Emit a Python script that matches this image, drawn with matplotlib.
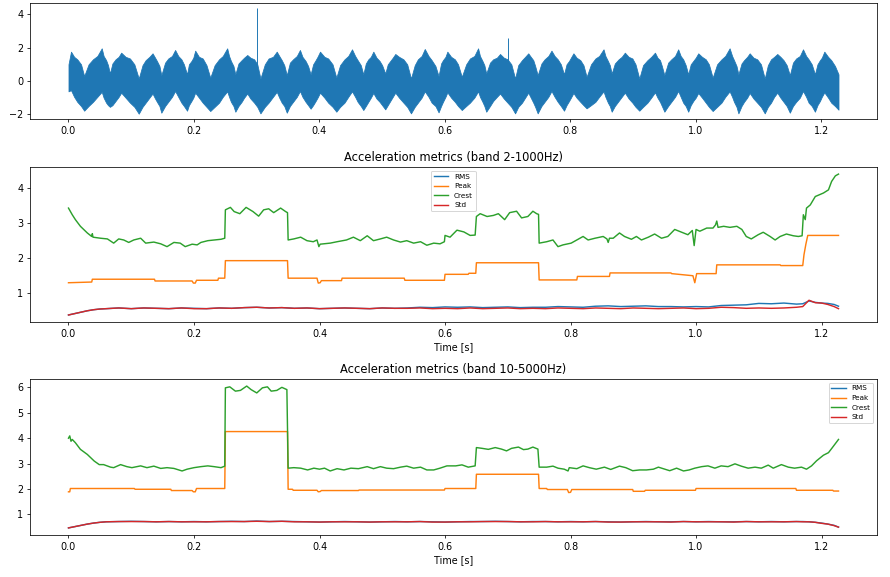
import matplotlib
matplotlib.use("Agg")
import matplotlib.pyplot as plt

# ---------------- data ----------------
# Top panel: upper / lower envelope of the raw vibration signal
sig_t = [0.000,
         0.004, 0.009, 0.014, 0.020, 0.025, 0.032, 0.039, 0.046,
         0.053, 0.056, 0.060, 0.063, 0.066, 0.070, 0.075, 0.080,
         0.084, 0.091, 0.098, 0.105, 0.112, 0.118, 0.123, 0.129,
         0.134, 0.138, 0.141, 0.145, 0.148, 0.154, 0.159, 0.165,
         0.170, 0.175, 0.180, 0.184, 0.189, 0.192, 0.196, 0.199,
         0.202, 0.208, 0.214, 0.220, 0.226, 0.233, 0.240, 0.246,
         0.253, 0.256, 0.259, 0.263, 0.266, 0.271, 0.276, 0.280,
         0.285, 0.290, 0.296, 0.301, 0.306, 0.313, 0.319, 0.326,
         0.332, 0.336, 0.340, 0.344, 0.348, 0.353, 0.358, 0.364,
         0.369, 0.373, 0.378, 0.382, 0.386, 0.390, 0.394, 0.397,
         0.401, 0.408, 0.414, 0.421, 0.427, 0.433, 0.440, 0.446,
         0.452, 0.457, 0.461, 0.466, 0.470, 0.474, 0.478, 0.482,
         0.486, 0.491, 0.496, 0.500, 0.505, 0.509, 0.513, 0.517,
         0.521, 0.527, 0.534, 0.540, 0.546, 0.552, 0.557, 0.563,
         0.568, 0.574, 0.579, 0.585, 0.590, 0.594, 0.597, 0.601,
         0.604, 0.610, 0.616, 0.621, 0.627, 0.634, 0.640, 0.647,
         0.653, 0.656, 0.660, 0.663, 0.666, 0.672, 0.677, 0.683,
         0.688, 0.694, 0.700, 0.706, 0.712, 0.717, 0.723, 0.728,
         0.733, 0.737, 0.741, 0.744, 0.748, 0.754, 0.759, 0.765,
         0.770, 0.775, 0.780, 0.785, 0.790, 0.794, 0.798, 0.801,
         0.805, 0.810, 0.816, 0.821, 0.826, 0.833, 0.840, 0.846,
         0.853, 0.856, 0.860, 0.863, 0.866, 0.871, 0.877, 0.882,
         0.887, 0.893, 0.899, 0.904, 0.910, 0.916, 0.923, 0.929,
         0.935, 0.939, 0.943, 0.946, 0.950, 0.956, 0.961, 0.967,
         0.972, 0.976, 0.980, 0.984, 0.988, 0.992, 0.996, 1.000,
         1.004, 1.010, 1.016, 1.021, 1.027, 1.034, 1.041, 1.047,
         1.054, 1.058, 1.061, 1.065, 1.068, 1.073, 1.077, 1.082,
         1.086, 1.092, 1.098, 1.104, 1.110, 1.115, 1.120, 1.125,
         1.130, 1.135, 1.140, 1.145, 1.150, 1.155, 1.160, 1.166,
         1.171, 1.176, 1.180, 1.185, 1.190, 1.194, 1.198, 1.201,
         1.205, 1.211, 1.216, 1.222,
         1.2276]
sig_hi = [1.00,
          1.76, 1.45, 1.30, 1.00, 0.30, 1.00, 1.30, 1.50,
          1.96, 1.50, 1.25, 0.95, 0.45, 1.05, 1.30, 1.45,
          1.70, 1.45, 1.35, 1.00, 0.15, 0.95, 1.25, 1.45,
          1.66, 1.40, 1.20, 0.90, 0.35, 1.10, 1.35, 1.50,
          1.86, 1.50, 1.30, 1.00, 0.40, 1.00, 1.20, 1.40,
          1.82, 1.45, 1.35, 0.95, 0.20, 0.95, 1.30, 1.50,
          1.96, 1.50, 1.20, 0.90, 0.40, 1.05, 1.25, 1.40,
          1.56, 1.40, 1.30, 1.00, 0.15, 1.00, 1.35, 1.45,
          1.76, 1.50, 1.25, 0.95, 0.35, 1.10, 1.30, 1.50,
          1.86, 1.45, 1.20, 0.90, 0.40, 1.00, 1.25, 1.45,
          1.76, 1.45, 1.35, 1.00, 0.20, 0.95, 1.30, 1.50,
          1.90, 1.50, 1.25, 0.95, 0.40, 1.05, 1.30, 1.45,
          1.76, 1.40, 1.20, 0.95, 0.45, 1.00, 1.20, 1.40,
          1.62, 1.45, 1.30, 1.00, 0.15, 0.95, 1.30, 1.50,
          1.92, 1.50, 1.25, 0.90, 0.30, 1.05, 1.25, 1.45,
          1.76, 1.45, 1.30, 1.00, 0.25, 1.00, 1.35, 1.50,
          1.96, 1.50, 1.20, 0.95, 0.45, 1.10, 1.30, 1.40,
          1.62, 1.40, 1.30, 1.00, 0.15, 0.95, 1.25, 1.45,
          1.66, 1.45, 1.25, 0.90, 0.35, 1.05, 1.30, 1.50,
          1.82, 1.50, 1.30, 1.00, 0.40, 1.00, 1.20, 1.40,
          1.66, 1.40, 1.25, 0.95, 0.25, 1.00, 1.35, 1.50,
          1.90, 1.50, 1.20, 0.95, 0.45, 1.05, 1.30, 1.45,
          1.70, 1.45, 1.35, 1.00, 0.15, 0.95, 1.25, 1.45,
          1.70, 1.40, 1.25, 0.90, 0.35, 1.10, 1.30, 1.50,
          1.90, 1.50, 1.30, 0.95, 0.40, 1.00, 1.20, 1.40,
          1.66, 1.45, 1.30, 1.00, 0.20, 1.00, 1.30, 1.50,
          1.96, 1.50, 1.25, 0.90, 0.40, 1.05, 1.25, 1.45,
          1.66, 1.40, 1.30, 1.00, 0.15, 0.95, 1.30, 1.45,
          1.62, 1.45, 1.25, 0.95, 0.35, 1.10, 1.35, 1.50,
          1.90, 1.50, 1.30, 1.00, 0.40, 1.00, 1.25, 1.40,
          1.76, 1.45, 1.25, 0.90,
          0.40]
sig_lo = [-0.62,
          -0.55, -0.95, -1.25, -1.50, -1.78, -1.50, -1.25, -0.95,
          -0.65, -1.00, -1.30, -1.45, -1.55, -1.45, -1.20, -0.95,
          -0.70, -1.00, -1.30, -1.55, -1.96, -1.55, -1.30, -1.00,
          -0.75, -1.05, -1.25, -1.50, -1.90, -1.50, -1.25, -0.95,
          -0.60, -0.95, -1.30, -1.50, -1.78, -1.45, -1.20, -1.00,
          -0.70, -1.00, -1.30, -1.55, -1.80, -1.55, -1.30, -0.95,
          -0.62, -0.95, -1.25, -1.50, -1.84, -1.50, -1.25, -1.00,
          -0.75, -1.05, -1.30, -1.55, -1.94, -1.55, -1.30, -0.95,
          -0.65, -1.00, -1.30, -1.50, -1.90, -1.50, -1.25, -0.95,
          -0.60, -0.95, -1.25, -1.45, -1.66, -1.45, -1.20, -1.00,
          -0.70, -1.00, -1.30, -1.55, -1.84, -1.55, -1.30, -0.95,
          -0.62, -0.95, -1.25, -1.50, -1.74, -1.50, -1.25, -1.00,
          -0.72, -1.05, -1.25, -1.45, -1.70, -1.45, -1.20, -0.95,
          -0.70, -1.00, -1.30, -1.55, -1.94, -1.55, -1.30, -1.00,
          -0.62, -0.95, -1.30, -1.50, -1.88, -1.50, -1.25, -0.95,
          -0.68, -1.00, -1.25, -1.50, -1.74, -1.50, -1.30, -1.00,
          -0.62, -0.95, -1.25, -1.50, -1.84, -1.50, -1.20, -0.95,
          -0.75, -1.05, -1.30, -1.55, -1.94, -1.55, -1.30, -1.00,
          -0.70, -1.00, -1.30, -1.55, -1.94, -1.50, -1.25, -0.95,
          -0.60, -0.95, -1.25, -1.50, -1.78, -1.45, -1.20, -1.00,
          -0.72, -1.00, -1.25, -1.45, -1.64, -1.45, -1.25, -0.95,
          -0.62, -0.95, -1.30, -1.50, -1.84, -1.50, -1.20, -0.95,
          -0.70, -1.05, -1.30, -1.55, -1.78, -1.55, -1.30, -1.00,
          -0.68, -1.00, -1.25, -1.50, -1.84, -1.50, -1.25, -0.95,
          -0.60, -0.95, -1.30, -1.50, -1.84, -1.45, -1.20, -1.00,
          -0.72, -1.00, -1.30, -1.55, -1.80, -1.55, -1.30, -0.95,
          -0.62, -0.95, -1.25, -1.55, -1.94, -1.50, -1.25, -1.00,
          -0.72, -1.05, -1.30, -1.55, -1.94, -1.55, -1.30, -0.95,
          -0.70, -1.00, -1.25, -1.50, -1.90, -1.50, -1.25, -1.00,
          -0.60, -0.95, -1.30, -1.50, -1.84, -1.45, -1.20, -0.95,
          -0.68, -1.00, -1.30, -1.50,
          -1.72]
spike_t = [0.300, 0.700]
spike_v = [4.36, 2.60]

# Panel 2: band 2-1000Hz
c2_t = [0.000, 0.006, 0.011, 0.019, 0.030, 0.037, 0.038, 0.039, 0.051, 0.062,
        0.072, 0.080, 0.088, 0.096, 0.104, 0.115, 0.123, 0.136, 0.147, 0.157,
        0.168, 0.178, 0.186, 0.197, 0.205, 0.211, 0.222, 0.232, 0.243, 0.249,
        0.250, 0.258, 0.264, 0.273, 0.283, 0.294, 0.303, 0.311, 0.319, 0.327,
        0.338, 0.346, 0.349, 0.350, 0.359, 0.370, 0.380, 0.390, 0.396, 0.399,
        0.401, 0.417, 0.428, 0.443, 0.454, 0.465, 0.476, 0.486, 0.497, 0.507,
        0.518, 0.529, 0.539, 0.550, 0.561, 0.571, 0.582, 0.592, 0.599, 0.600,
        0.608, 0.619, 0.630, 0.640, 0.648, 0.650, 0.656, 0.667, 0.677, 0.685,
        0.695, 0.703, 0.714, 0.722, 0.732, 0.740, 0.746, 0.749, 0.750, 0.762,
        0.772, 0.780, 0.788, 0.801, 0.810, 0.820, 0.828, 0.839, 0.852, 0.858,
        0.860, 0.862, 0.868, 0.878, 0.886, 0.897, 0.905, 0.913, 0.924, 0.934,
        0.945, 0.955, 0.966, 0.977, 0.987, 0.994, 0.997, 1.000, 1.006, 1.017,
        1.027, 1.031, 1.033, 1.035, 1.044, 1.054, 1.065, 1.073, 1.080, 1.088,
        1.099, 1.107, 1.118, 1.126, 1.134, 1.144, 1.155, 1.163, 1.169, 1.171,
        1.174, 1.176, 1.182, 1.190, 1.203, 1.211, 1.216, 1.222, 1.227]
c2_v = [3.43, 3.24, 3.10, 2.91, 2.72, 2.62, 2.70, 2.60, 2.57, 2.55,
        2.43, 2.55, 2.52, 2.45, 2.52, 2.57, 2.43, 2.46, 2.41, 2.33,
        2.45, 2.43, 2.33, 2.40, 2.38, 2.45, 2.50, 2.52, 2.54, 2.57,
        3.38, 3.45, 3.33, 3.27, 3.45, 3.33, 3.20, 3.38, 3.41, 3.30,
        3.43, 3.33, 3.30, 2.52, 2.55, 2.60, 2.50, 2.47, 2.52, 2.33,
        2.40, 2.43, 2.47, 2.52, 2.60, 2.50, 2.64, 2.50, 2.55, 2.60,
        2.52, 2.46, 2.50, 2.43, 2.47, 2.37, 2.43, 2.41, 2.47, 2.65,
        2.60, 2.80, 2.75, 2.65, 2.66, 3.19, 3.27, 3.19, 3.22, 3.27,
        3.10, 3.30, 3.34, 3.15, 3.19, 3.34, 3.27, 3.25, 2.43, 2.47,
        2.52, 2.33, 2.38, 2.43, 2.52, 2.62, 2.52, 2.57, 2.62, 2.55,
        2.45, 2.57, 2.57, 2.72, 2.62, 2.54, 2.62, 2.52, 2.60, 2.69,
        2.57, 2.62, 2.82, 2.74, 2.67, 2.79, 2.36, 2.82, 2.77, 2.86,
        2.86, 2.95, 3.06, 2.88, 2.91, 2.88, 2.91, 2.82, 2.62, 2.55,
        2.67, 2.74, 2.62, 2.52, 2.62, 2.69, 2.64, 2.62, 2.64, 3.24,
        3.10, 3.43, 3.52, 3.76, 3.86, 3.95, 4.19, 4.35, 4.40]
p2_t = [0.000, 0.037, 0.038, 0.137, 0.138, 0.197, 0.199, 0.202, 0.204, 0.238,
        0.239, 0.249, 0.250, 0.349, 0.350, 0.396, 0.398, 0.401, 0.403, 0.435,
        0.436, 0.535, 0.536, 0.599, 0.600, 0.637, 0.638, 0.649, 0.650, 0.749,
        0.750, 0.810, 0.811, 0.862, 0.863, 0.960, 0.961, 0.995, 0.998, 1.001,
        1.032, 1.033, 1.134, 1.135, 1.170, 1.172, 1.175, 1.178, 1.227]
p2_v = [1.30, 1.32, 1.40, 1.40, 1.35, 1.35, 1.29, 1.29, 1.37, 1.37,
        1.43, 1.43, 1.93, 1.93, 1.43, 1.43, 1.29, 1.30, 1.36, 1.36,
        1.43, 1.43, 1.37, 1.37, 1.54, 1.54, 1.57, 1.57, 1.87, 1.87,
        1.38, 1.38, 1.48, 1.48, 1.58, 1.58, 1.56, 1.50, 1.30, 1.56,
        1.56, 1.81, 1.81, 1.79, 1.79, 2.10, 2.40, 2.65, 2.65]

rs_t = [0.00, 0.01, 0.02, 0.03, 0.04, 0.05, 0.06, 0.08, 0.10, 0.12,
        0.14, 0.16, 0.18, 0.20, 0.22, 0.24, 0.26, 0.28, 0.30, 0.32,
        0.34, 0.36, 0.38, 0.40, 0.42, 0.44, 0.46, 0.48, 0.50, 0.52,
        0.54, 0.56, 0.58, 0.60, 0.62, 0.64, 0.66, 0.68, 0.70, 0.72,
        0.74, 0.76, 0.78, 0.80, 0.82, 0.84, 0.86, 0.88, 0.90, 0.92,
        0.94, 0.96, 0.98, 1.00, 1.02, 1.04, 1.06, 1.08, 1.10, 1.12,
        1.14, 1.16, 1.17, 1.18, 1.19, 1.20, 1.21, 1.22, 1.227]
r2_v = [0.38, 0.42, 0.46, 0.50, 0.53, 0.55, 0.56, 0.58, 0.56, 0.58,
        0.57, 0.56, 0.58, 0.57, 0.56, 0.58, 0.57, 0.59, 0.60, 0.58,
        0.59, 0.57, 0.58, 0.56, 0.57, 0.58, 0.57, 0.56, 0.58, 0.57,
        0.58, 0.60, 0.59, 0.61, 0.60, 0.61, 0.59, 0.60, 0.61, 0.59,
        0.60, 0.60, 0.62, 0.61, 0.60, 0.63, 0.64, 0.62, 0.63, 0.64,
        0.62, 0.62, 0.61, 0.62, 0.61, 0.65, 0.66, 0.67, 0.71, 0.70,
        0.72, 0.69, 0.70, 0.78, 0.74, 0.72, 0.71, 0.68, 0.63]
s2_v = [0.38, 0.42, 0.46, 0.50, 0.53, 0.55, 0.56, 0.58, 0.56, 0.58,
        0.57, 0.56, 0.58, 0.56, 0.56, 0.58, 0.57, 0.59, 0.60, 0.58,
        0.59, 0.57, 0.58, 0.56, 0.57, 0.58, 0.57, 0.56, 0.58, 0.57,
        0.57, 0.58, 0.56, 0.57, 0.56, 0.58, 0.56, 0.57, 0.58, 0.56,
        0.57, 0.56, 0.58, 0.57, 0.56, 0.58, 0.57, 0.56, 0.58, 0.57,
        0.56, 0.57, 0.58, 0.56, 0.57, 0.60, 0.59, 0.57, 0.58, 0.57,
        0.58, 0.60, 0.62, 0.80, 0.73, 0.72, 0.68, 0.62, 0.56]

# Panel 3: band 10-5000Hz
c3_t = [0.000, 0.002, 0.004, 0.006, 0.011, 0.019, 0.030, 0.041, 0.049, 0.056,
        0.067, 0.072, 0.083, 0.093, 0.101, 0.115, 0.125, 0.136, 0.147, 0.157,
        0.168, 0.181, 0.189, 0.200, 0.211, 0.222, 0.232, 0.243, 0.249, 0.250,
        0.257, 0.266, 0.274, 0.284, 0.291, 0.300, 0.309, 0.317, 0.323, 0.332,
        0.340, 0.348, 0.350, 0.359, 0.370, 0.381, 0.391, 0.400, 0.408, 0.417,
        0.428, 0.439, 0.450, 0.462, 0.476, 0.486, 0.497, 0.507, 0.518, 0.529,
        0.539, 0.550, 0.561, 0.571, 0.582, 0.592, 0.603, 0.617, 0.627, 0.637,
        0.648, 0.650, 0.659, 0.669, 0.680, 0.690, 0.698, 0.706, 0.717, 0.725,
        0.732, 0.740, 0.748, 0.750, 0.762, 0.772, 0.780, 0.790, 0.796, 0.798,
        0.810, 0.820, 0.830, 0.841, 0.854, 0.864, 0.878, 0.888, 0.899, 0.910,
        0.921, 0.932, 0.940, 0.950, 0.958, 0.969, 0.980, 0.989, 0.998, 1.009,
        1.019, 1.030, 1.040, 1.051, 1.062, 1.072, 1.083, 1.094, 1.104, 1.115,
        1.123, 1.136, 1.147, 1.157, 1.168, 1.176, 1.184, 1.192, 1.203, 1.211,
        1.216, 1.222, 1.227]
c3_v = [4.00, 4.09, 3.88, 3.95, 3.82, 3.56, 3.36, 3.10, 2.96, 2.96,
        2.86, 2.84, 2.96, 2.88, 2.84, 2.91, 2.84, 2.90, 2.81, 2.84,
        2.81, 2.71, 2.78, 2.84, 2.88, 2.91, 2.88, 2.84, 2.90, 5.98,
        6.02, 5.85, 5.88, 6.05, 5.91, 5.78, 5.98, 6.02, 5.85, 5.88,
        6.00, 5.91, 2.82, 2.84, 2.82, 2.75, 2.82, 2.78, 2.82, 2.71,
        2.80, 2.75, 2.82, 2.80, 2.88, 2.80, 2.88, 2.82, 2.80, 2.86,
        2.90, 2.82, 2.86, 2.75, 2.75, 2.82, 2.91, 2.91, 2.95, 2.86,
        2.91, 3.63, 3.60, 3.56, 3.63, 3.57, 3.50, 3.60, 3.65, 3.55,
        3.57, 3.65, 3.57, 2.86, 2.86, 2.90, 2.82, 2.78, 2.71, 2.84,
        2.80, 2.91, 2.84, 2.78, 2.86, 2.77, 2.90, 2.84, 2.72, 2.75,
        2.75, 2.78, 2.86, 2.78, 2.72, 2.82, 2.71, 2.75, 2.82, 2.88,
        2.91, 2.82, 2.91, 2.88, 2.99, 2.90, 2.82, 2.86, 2.82, 2.94,
        2.82, 2.96, 2.86, 2.82, 2.86, 2.78, 2.91, 3.11, 3.33, 3.43,
        3.59, 3.79, 3.95]
p3_t = [0.000, 0.002, 0.003, 0.105, 0.106, 0.163, 0.164, 0.197, 0.199, 0.202,
        0.204, 0.249, 0.250, 0.349, 0.350, 0.357, 0.358, 0.396, 0.398, 0.401,
        0.403, 0.462, 0.463, 0.599, 0.600, 0.649, 0.650, 0.749, 0.750, 0.762,
        0.763, 0.795, 0.797, 0.800, 0.802, 0.899, 0.900, 0.918, 0.919, 0.999,
        1.000, 1.159, 1.160, 1.218, 1.219, 1.227]
p3_v = [1.89, 1.89, 2.02, 2.02, 1.99, 1.99, 1.94, 1.94, 1.89, 1.89,
        2.02, 2.02, 4.26, 4.26, 1.99, 1.99, 1.95, 1.95, 1.89, 1.90,
        1.94, 1.94, 1.96, 1.96, 2.02, 2.02, 2.58, 2.58, 2.02, 2.02,
        1.98, 1.98, 1.86, 1.87, 1.98, 1.98, 1.91, 1.91, 1.95, 1.95,
        2.02, 2.02, 1.95, 1.95, 1.92, 1.92]
r3_v = [0.47, 0.52, 0.57, 0.62, 0.66, 0.69, 0.71, 0.72, 0.73, 0.72,
        0.71, 0.72, 0.71, 0.72, 0.71, 0.72, 0.73, 0.72, 0.74, 0.72,
        0.73, 0.72, 0.71, 0.70, 0.71, 0.72, 0.71, 0.70, 0.71, 0.72,
        0.71, 0.72, 0.71, 0.70, 0.71, 0.72, 0.72, 0.73, 0.72, 0.71,
        0.72, 0.72, 0.71, 0.72, 0.71, 0.72, 0.71, 0.70, 0.71, 0.72,
        0.71, 0.71, 0.72, 0.71, 0.72, 0.71, 0.71, 0.72, 0.71, 0.72,
        0.71, 0.72, 0.72, 0.71, 0.69, 0.66, 0.62, 0.57, 0.50]
s3_v = [0.47, 0.52, 0.57, 0.62, 0.66, 0.69, 0.71, 0.72, 0.72, 0.72,
        0.71, 0.72, 0.71, 0.71, 0.71, 0.72, 0.72, 0.72, 0.73, 0.72,
        0.73, 0.71, 0.71, 0.70, 0.71, 0.71, 0.71, 0.70, 0.71, 0.71,
        0.71, 0.72, 0.70, 0.70, 0.71, 0.71, 0.72, 0.72, 0.72, 0.71,
        0.71, 0.72, 0.71, 0.71, 0.71, 0.72, 0.70, 0.70, 0.71, 0.71,
        0.71, 0.70, 0.72, 0.71, 0.71, 0.71, 0.70, 0.72, 0.71, 0.71,
        0.71, 0.72, 0.71, 0.71, 0.69, 0.65, 0.62, 0.56, 0.50]

labels = ["RMS", "Peak", "Crest", "Std"]
titles = ["Acceleration metrics (band 2-1000Hz)",
          "Acceleration metrics (band 10-5000Hz)"]
xticks = [0.0, 0.2, 0.4, 0.6, 0.8, 1.0, 1.2]

# ---------------- figure ----------------
DPI = 69
fig = plt.figure(figsize=(890 / DPI, 577 / DPI), dpi=DPI)
blue = "#1f77b4"

ax1 = fig.add_axes([0.0337, 0.7938, 0.9517, 0.201])
ax1.fill_between(sig_t, sig_lo, sig_hi, color=blue, linewidth=0.8)
ax1.vlines(spike_t, 0, spike_v, color=blue, linewidth=1.0)
ax1.set_xticks(xticks)

ax2 = fig.add_axes([0.0337, 0.4419, 0.9517, 0.2686])
ax2.plot(rs_t, r2_v, label=labels[0])
ax2.plot(p2_t, p2_v, label=labels[1])
ax2.plot(c2_t, c2_v, label=labels[2])
ax2.plot(rs_t, s2_v, label=labels[3])
ax2.set_title(titles[0])
ax2.set_xlabel("Time [s]")
ax2.set_xticks(xticks)
ax2.legend(loc="upper center", fontsize=7.5)

ax3 = fig.add_axes([0.0337, 0.0728, 0.9517, 0.2704])
ax3.plot(rs_t, r3_v, label=labels[0])
ax3.plot(p3_t, p3_v, label=labels[1])
ax3.plot(c3_t, c3_v, label=labels[2])
ax3.plot(rs_t, s3_v, label=labels[3])
ax3.set_title(titles[1])
ax3.set_xlabel("Time [s]")
ax3.set_xticks(xticks)
ax3.legend(loc="upper right", fontsize=7.5)

fig.savefig("out.png", dpi=DPI)
